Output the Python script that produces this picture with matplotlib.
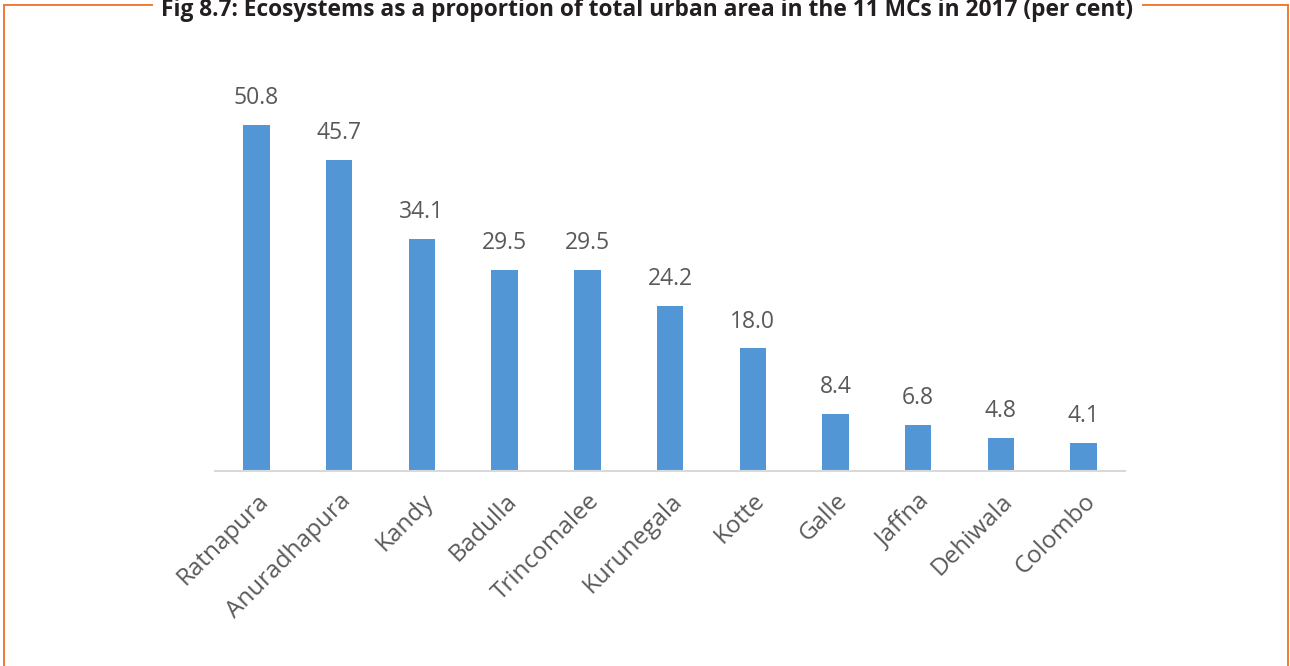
import matplotlib.pyplot as plt
from matplotlib.lines import Line2D

# data
cities = ['Ratnapura', 'Anuradhapura', 'Kandy', 'Badulla', 'Trincomalee', 'Kurunegala',
          'Kotte', 'Galle', 'Jaffna', 'Dehiwala', 'Colombo']
shares = [50.8, 45.7, 34.1, 29.5, 29.5, 24.2, 18.0, 8.4, 6.8, 4.8, 4.1]

title = 'Fig 8.7: Ecosystems as a proportion of total urban area in the 11 MCs in 2017 (per cent)'

plt.rcParams['font.family'] = ['Open Sans', 'DejaVu Sans']

fig = plt.figure(figsize=(12.9, 6.66), dpi=100)
ax = fig.add_axes([0.1667, 0.2928, 0.7054, 0.6137])

x = range(len(cities))
bars = ax.bar(x, shares, width=0.32, color='#5296d5')

# value labels
for b, v in zip(bars, shares):
    ax.annotate('%.1f' % v, (b.get_x() + b.get_width() / 2, v),
                xytext=(0, 15), textcoords='offset points',
                ha='center', va='baseline', fontsize=16.5, color='#595959')

ax.set_xlim(-0.5, len(cities) - 0.5)
ax.set_ylim(0, 60)
ax.set_xticks(list(x))
ax.set_xticklabels(cities, rotation=45, ha='right', rotation_mode='anchor',
                   fontsize=17.5, color='#595959')
ax.tick_params(axis='x', length=0, pad=13)
ax.set_yticks([])
for s in ['top', 'right', 'left']:
    ax.spines[s].set_visible(False)
ax.spines['bottom'].set_color('#d9d9d9')
ax.spines['bottom'].set_linewidth(1.5)

# orange frame with a gap for the title
W, H = 1290, 666
c = '#ed7d31'
segs = [([4, 4], [5, 666]), ([1288, 1288], [5, 666]),
        ([4, 152], [5, 5]), ([1143, 1288], [5, 5])]
for xs, ys in segs:
    fig.add_artist(Line2D([v / W for v in xs], [1 - v / H for v in ys],
                          color=c, lw=1.4, transform=fig.transFigure))

fig.text(647 / W, 1 - 16 / H, title, ha='center', va='baseline',
         fontsize=16.4, fontweight='bold', color='#231f20', fontstretch='condensed')

fig.savefig('out.png', dpi=100)
